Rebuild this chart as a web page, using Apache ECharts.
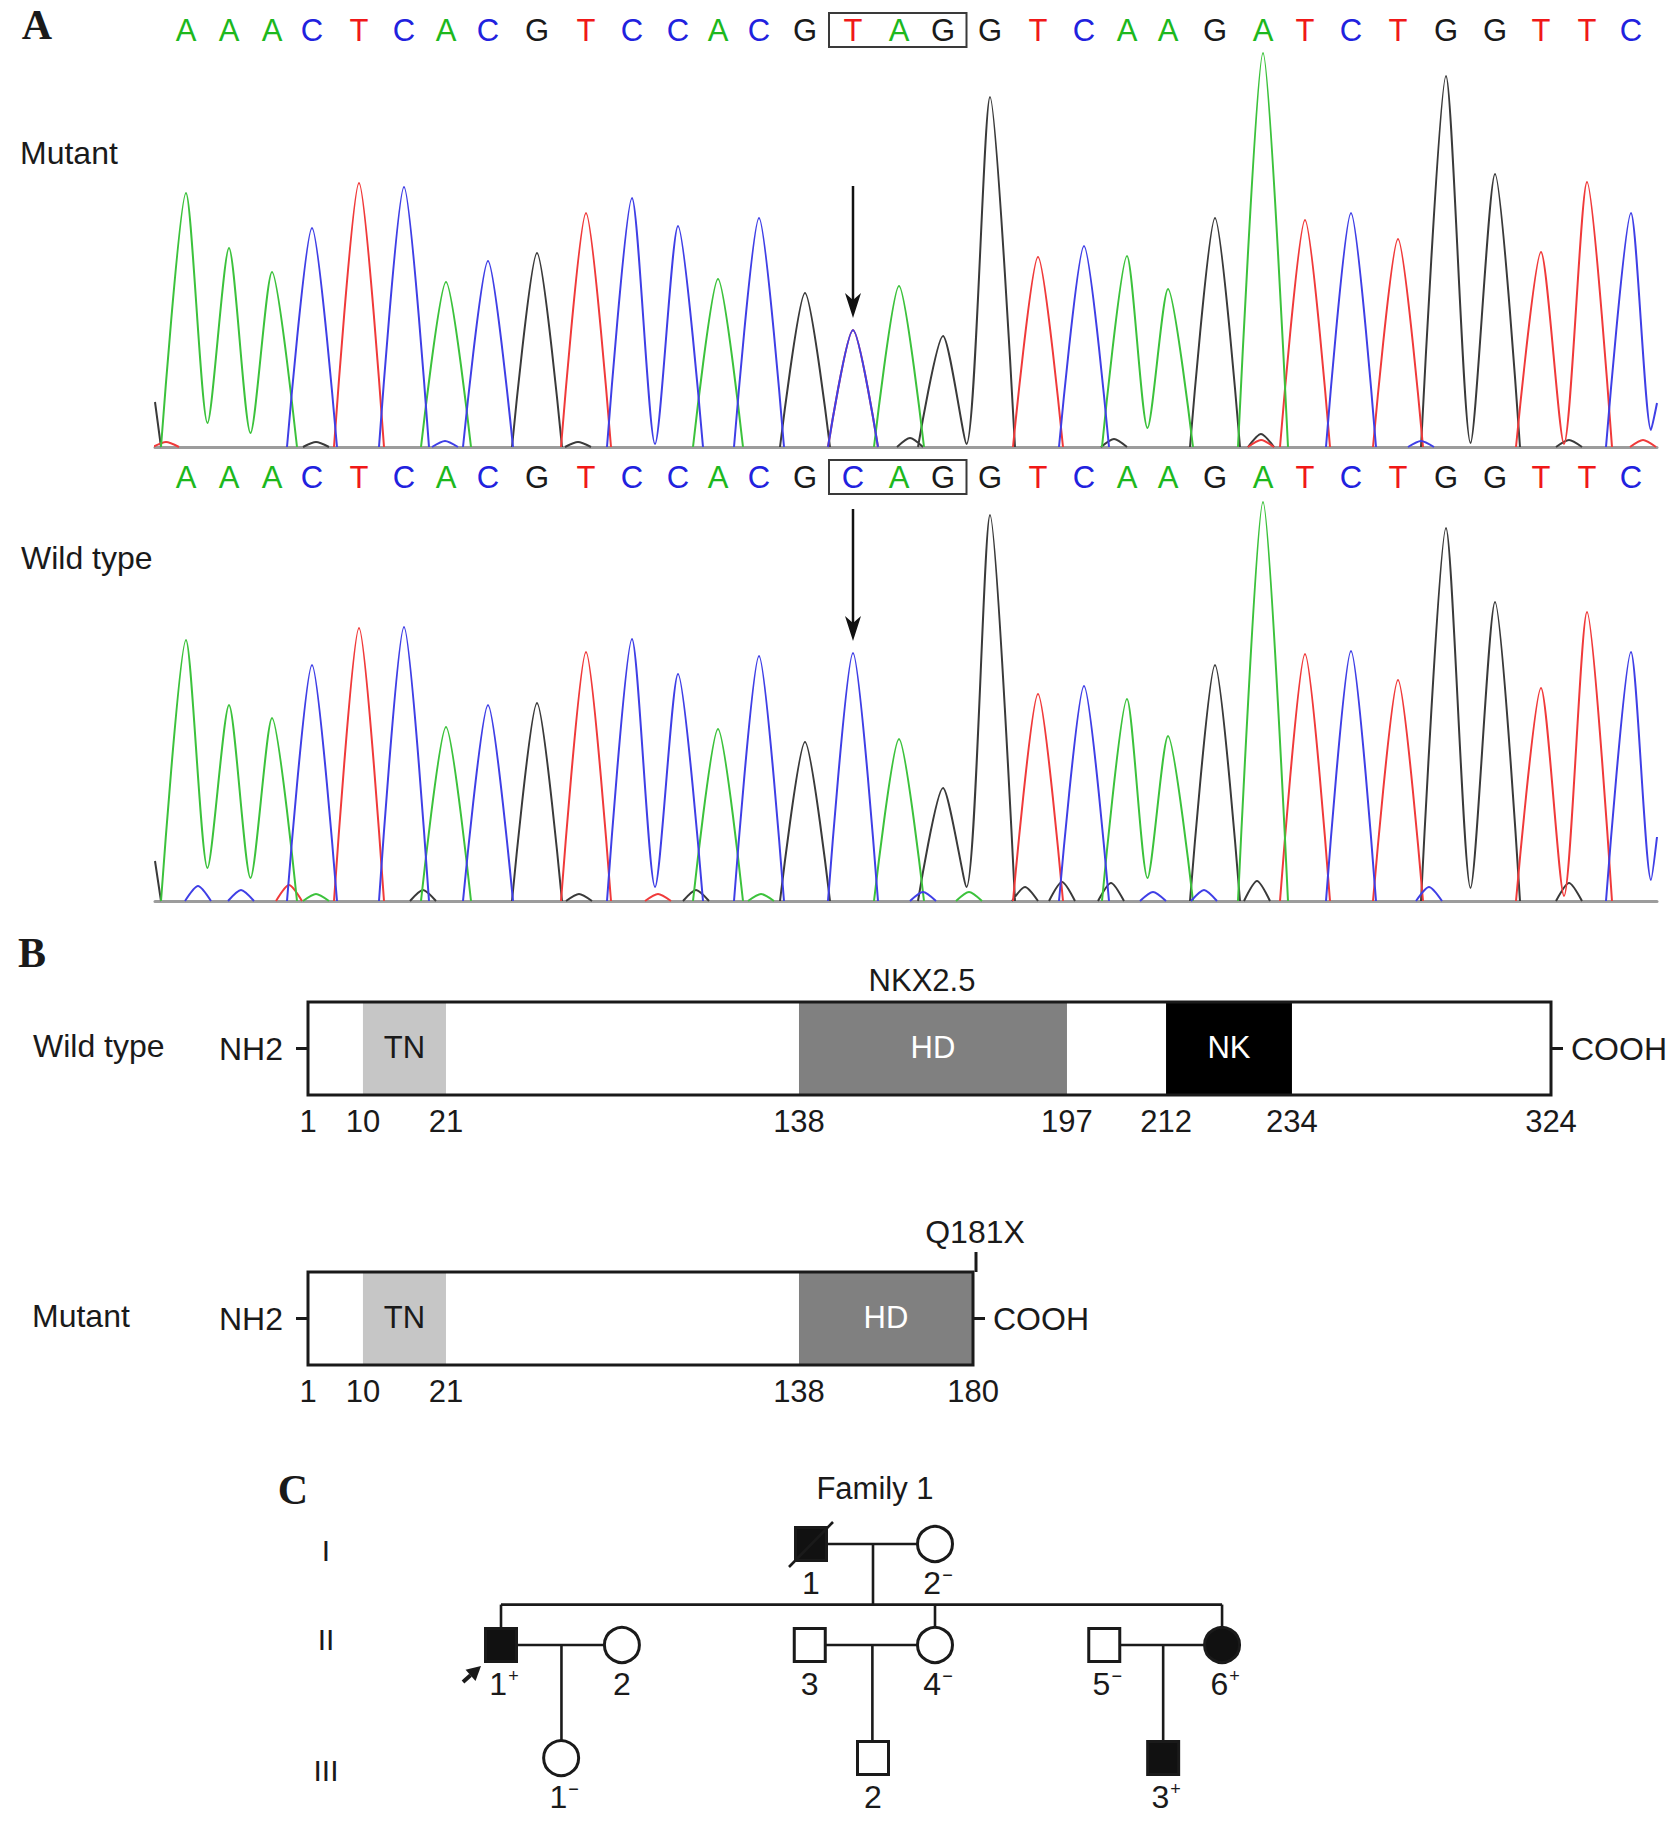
<!DOCTYPE html>
<html>
<head>
<meta charset="utf-8">
<title>NKX2.5 Q181X</title>
<script src="https://cdn.jsdelivr.net/npm/echarts@6.0.0/dist/echarts.min.js"></script>
<style>html,body{margin:0;padding:0;background:#fff;}#chart{width:1680px;height:1822px;}</style>
</head>
<body>
<div id="chart"></div>
<script>
// ================= DATA =================
// Panel A: Sanger chromatograms (heights)
const mutantCalls = 'AAACTCACGTCCACGTAGGTCAAGATCTGGTTC'.split('');
const wildCalls   = 'AAACTCACGTCCACGCAGGTCAAGATCTGGTTC'.split('');
const peakScan = [31,74,117,157,204,249,291,333,382,431,477,523,563,604,650,698,744,788,835,883,929,972,1013,1060,1108,1150,1196,1243,1291,1340,1386,1432,1476];
const mutantHeights = [254,199,175,219,264,260,165,186,194,234,249,221,168,229,154,117,161,111,350,190,201,191,158,229,394,227,234,208,371,273,195,265,234];
const wildHeights   = [261,196,183,236,273,274,174,196,198,249,262,227,172,245,159,248,162,113,386,207,215,202,165,236,399,247,250,221,373,299,213,289,249];
const mutantExtraPeaks = [['C',15,117]];          // heterozygous C under the T call
const wildExtraPeaks = [];
const mutantValleys = [[0,24],[1,14],[10,3],[17,3],[21,19],[28,4],[30,3]]; // valley after peak i
const wildValleys   = [[0,33],[1,23],[10,14],[17,14],[21,23],[28,13],[30,5]];
const mutantMinorPeaks = [['T',11,5],['G',161,5],['C',290,6],['G',423,5],['G',755,9],['G',959,8],['G',1106,13],['T',1106,7],['C',1266,6],['G',1414,7],['T',1488,7]];
const wildMinorPeaks = [['C',43,15],['C',86,11],['T',134,16],['A',161,7],['G',268,11],['G',424,7],['T',503,7],['G',541,11],['A',606,7],['C',768,9],['A',814,9],['G',870,14],['G',907,19],['G',956,18],['C',998,9],['C',1049,11],['G',1102,20],['C',1274,14],['G',1414,18]];
const mutantTraceStart = ['G',45];
const wildTraceStart   = ['G',40];
const mutantTraceEnd = ['C',1496,17,1502,44];
const wildTraceEnd   = ['C',1496,21,1502,64];
const codonFirst = 15, codonLast = 17, mutationIndex = 15;

// Panel B: NKX2.5 protein schematic
const residueTicksWT  = [1,10,21,138,197,212,234,324];
const residueTicksMut = [1,10,21,138,180];
// drawing position of each residue along the bar (the schematic is not to scale)
const residueDrawPos = {1:0, 10:4.42, 21:11.1, 138:39.5, 180:53.5, 197:61.06, 212:69.03, 234:79.16, 324:100};
const domainsWT  = [['TN',10,21],['HD',138,197],['NK',212,234]];
const domainsMut = [['TN',10,21],['HD',138,180]];
const lengthWT = 324, lengthMut = 180;
const mutationLabel = 'Q181X';

// Panel C: pedigree
// id, generation, column, sex, affected, deceased, proband, number, genotype
const pedigree = [
  ['I-1',1,5,'M',1,1,0,'1',''],
  ['I-2',1,7,'F',0,0,0,'2','−'],
  ['II-1',2,0,'M',1,0,1,'1','+'],
  ['II-2',2,1.95,'F',0,0,0,'2',''],
  ['II-3',2,4.98,'M',0,0,0,'3',''],
  ['II-4',2,7,'F',0,0,0,'4','−'],
  ['II-5',2,9.73,'M',0,0,0,'5','−'],
  ['II-6',2,11.63,'F',1,0,0,'6','+'],
  ['III-1',3,0.97,'F',0,0,0,'1','−'],
  ['III-2',3,6,'M',0,0,0,'2',''],
  ['III-3',3,10.68,'M',1,0,0,'3','+']
];
const generationRow = {1:1, 2:2, 3:3.12};
const families = [
  [['I-1','I-2'],['II-1','II-4','II-6']],
  [['II-1','II-2'],['III-1']],
  [['II-3','II-4'],['III-2']],
  [['II-5','II-6'],['III-3']]
];
const generationLabels = ['I','II','III'];

// ================= STYLE =================
const FONT = '"Liberation Sans", Arial, Helvetica, sans-serif';
const SERIF = '"Liberation Serif", "Times New Roman", serif';
const INK = '#1a1a1a';
const traceColor = {A:'#3cc23c', C:'#3f3fe6', G:'#3a3a3a', T:'#f03a3a'};
const letterColor = {A:'#1db81d', C:'#2121de', G:'#1a1a1a', T:'#f01818'};
const domainFill = {TN:'#c6c6c6', HD:'#808080', NK:'#000000'};
const domainInk = {TN:'#1a1a1a', HD:'#ffffff', NK:'#ffffff'};

function txt(x, y, text, size, opts) {
  opts = opts || {};
  const align = opts.align || 'center', va = opts.va || 'middle';
  return {type:'text', x:x, y:y, z:opts.z || 10,
    style:{text:text, fill:opts.fill || INK, fontSize:size, fontFamily:opts.family || FONT,
      fontWeight:opts.weight || 'normal', align:align, textAlign:align,
      verticalAlign:va, textVerticalAlign:va}};
}

// ---------- chromatogram traces ----------
const TRACE_END = 1502;
function traceData(base, calls, heights, valleys, extra, minor, start, end) {
  const W = 25, w = 13;
  const vm = new Map(valleys);
  const peaks = [];
  calls.forEach((b, i) => { if (b === base) peaks.push([i, heights[i]]); });
  extra.forEach(e => { if (e[0] === base) peaks.push([e[1], e[2]]); });
  peaks.sort((a, b) => a[0] - b[0]);
  const out = [];
  const gap = () => out.push(['-', '-']);
  if (start && start[0] === base) { out.push([0, start[1]], [6, 0]); gap(); }
  for (let k = 0; k < peaks.length; k++) {
    const i = peaks[k][0], h = peaks[k][1], x = peakScan[i];
    const prev = peaks[k - 1];
    const joinedPrev = prev && prev[0] === i - 1 && vm.has(i - 1);
    if (!joinedPrev) out.push([x - W, 0]);
    out.push([x, h]);
    const next = peaks[k + 1];
    if (next && next[0] === i + 1 && vm.has(i)) {
      out.push([(x + peakScan[i + 1]) / 2, vm.get(i)]);
    } else if (end && end[0] === base && i === calls.length - 1) {
      out.push([end[1], end[2]], [end[3], end[4]]); gap();
    } else {
      out.push([x + W, 0]); gap();
    }
  }
  minor.forEach(m => { if (m[0] === base) { out.push([m[1] - w, 0], [m[1], m[2]], [m[1] + w, 0]); gap(); } });
  return out;
}

function letterSeries(gi, calls, level) {
  return {type:'custom', xAxisIndex:gi, yAxisIndex:gi, z:5,
    data: calls.map((b, i) => [peakScan[i], level]),
    renderItem: (params, api) => {
      const p = api.coord([api.value(0), api.value(1)]);
      const b = calls[params.dataIndex];
      return txt(p[0], p[1], b, 31, {fill: letterColor[b]});
    }};
}

function markSeries(gi, heights, level) {
  return {type:'custom', xAxisIndex:gi, yAxisIndex:gi, z:6,
    data: [[peakScan[mutationIndex], heights[mutationIndex]]],
    renderItem: (params, api) => {
      const L = api.coord([(peakScan[codonFirst - 1] + peakScan[codonFirst]) / 2, level]);
      const R = api.coord([(peakScan[codonLast] + peakScan[codonLast + 1]) / 2, level]);
      const t = api.coord([api.value(0), api.value(1)]);
      const tip = t[1] - 12, x = t[0];
      return {type:'group', children:[
        {type:'rect', shape:{x:L[0], y:L[1] - 17, width:R[0] - L[0], height:34}, style:{fill:'none', stroke:'#3a3a3a', lineWidth:2}},
        {type:'line', shape:{x1:x, y1:tip - 132, x2:x, y2:tip - 14}, style:{stroke:'#111', lineWidth:2.5}},
        {type:'polygon', shape:{points:[[x, tip], [x - 8, tip - 25], [x, tip - 18], [x + 8, tip - 25]]}, style:{fill:'#111'}}
      ]};
    }};
}

function traceSeries(gi, calls, heights, valleys, extra, minor, start, end) {
  return ['G','T','A','C'].map(b => ({
    type:'line', xAxisIndex:gi, yAxisIndex:gi, name:b, z:3,
    data: traceData(b, calls, heights, valleys, extra, minor, start, end),
    showSymbol:false, symbol:'none', smooth:0.25, connectNulls:false,
    lineStyle:{color:traceColor[b], width:2}, emphasis:{disabled:true}, silent:true
  }));
}

// ---------- protein schematic ----------
function domainSeries(gi, domains) {
  return {type:'custom', xAxisIndex:gi, yAxisIndex:gi, z:4,
    data: domains.map(d => [residueDrawPos[d[1]], residueDrawPos[d[2]]]),
    renderItem: (params, api) => {
      const d = domains[params.dataIndex];
      const a = api.coord([api.value(0), 1]), b = api.coord([api.value(1), 0]);
      return {type:'group', children:[
        {type:'rect', shape:{x:a[0], y:a[1], width:b[0] - a[0], height:b[1] - a[1]}, style:{fill:domainFill[d[0]]}},
        txt((a[0] + b[0]) / 2, (a[1] + b[1]) / 2 - 1, d[0], 31, {fill:domainInk[d[0]]})
      ]};
    }};
}

function frameSeries(gi, len, mutLabel) {
  return {type:'custom', xAxisIndex:gi, yAxisIndex:gi, z:5,
    data: [[0, residueDrawPos[len]]],
    renderItem: (params, api) => {
      const a = api.coord([api.value(0), 1]), b = api.coord([api.value(1), 0]);
      const my = (a[1] + b[1]) / 2;
      const ch = [
        {type:'rect', shape:{x:a[0], y:a[1], width:b[0] - a[0], height:b[1] - a[1]}, style:{fill:'none', stroke:INK, lineWidth:3}},
        {type:'line', shape:{x1:a[0] - 12, y1:my, x2:a[0], y2:my}, style:{stroke:INK, lineWidth:3}},
        txt(a[0] - 25, my, 'NH2', 32, {align:'right'}),
        {type:'line', shape:{x1:b[0], y1:my, x2:b[0] + 12, y2:my}, style:{stroke:INK, lineWidth:3}},
        txt(b[0] + 20, my, 'COOH', 32, {align:'left'})
      ];
      if (mutLabel) {
        ch.push({type:'line', shape:{x1:b[0] + 3, y1:a[1] - 20, x2:b[0] + 3, y2:a[1]}, style:{stroke:INK, lineWidth:3}});
        ch.push(txt(b[0] + 2, a[1] - 40, mutLabel, 32));
      }
      return {type:'group', children:ch};
    }};
}

function tickAxis(gi, ticks) {
  const vals = ticks.map(t => residueDrawPos[t]);
  return {gridIndex:gi, type:'value', min:0, max:100,
    axisLine:{show:false}, axisTick:{show:false}, splitLine:{show:false},
    axisLabel:{show:true, customValues:vals, margin:11, fontSize:31, fontFamily:FONT, color:INK,
      showMinLabel:true, showMaxLabel:true, hideOverlap:false,
      formatter: v => { const i = vals.findIndex(x => Math.abs(x - v) < 1e-6); return i >= 0 ? String(ticks[i]) : ''; }}};
}

// ---------- pedigree ----------
const byId = {};
pedigree.forEach(p => { byId[p[0]] = p; });
const pedigreeSegments = [];
families.forEach(f => {
  const p1 = byId[f[0][0]], p2 = byId[f[0][1]];
  const r = generationRow[p1[1]];
  pedigreeSegments.push([p1[2], r, p2[2], r]);
  const mid = (p1[2] + p2[2]) / 2;
  const kids = f[1].map(id => byId[id]);
  if (kids.length === 1) {
    pedigreeSegments.push([mid, r, mid, generationRow[kids[0][1]]]);
  } else {
    const sib = r + 0.6;
    pedigreeSegments.push([mid, r, mid, sib]);
    const xs = kids.map(k => k[2]);
    pedigreeSegments.push([Math.min.apply(null, xs), sib, Math.max.apply(null, xs), sib]);
    kids.forEach(k => pedigreeSegments.push([k[2], sib, k[2], generationRow[k[1]]]));
  }
});

const pedigreeLineSeries = {type:'custom', xAxisIndex:4, yAxisIndex:4, z:4,
  data: pedigreeSegments,
  renderItem: (params, api) => {
    const a = api.coord([api.value(0), api.value(1)]), b = api.coord([api.value(2), api.value(3)]);
    return {type:'line', shape:{x1:a[0], y1:a[1], x2:b[0], y2:b[1]}, style:{stroke:INK, lineWidth:2.6}};
  }};

const pedigreeSymbolSeries = {type:'custom', xAxisIndex:4, yAxisIndex:4, z:5,
  data: pedigree.map(p => [p[2], generationRow[p[1]]]),
  renderItem: (params, api) => {
    const p = pedigree[params.dataIndex];
    const c = api.coord([api.value(0), api.value(1)]);
    const fill = p[4] ? '#111' : '#fff';
    const ch = [];
    if (p[3] === 'M') ch.push({type:'rect', shape:{x:c[0] - 15.5, y:c[1] - 16.5, width:31, height:33}, style:{fill:fill, stroke:INK, lineWidth:3}});
    else ch.push({type:'circle', shape:{cx:c[0], cy:c[1], r:17.5}, style:{fill:fill, stroke:INK, lineWidth:3}});
    if (p[5]) ch.push({type:'line', shape:{x1:c[0] - 22, y1:c[1] + 23, x2:c[0] + 22, y2:c[1] - 22}, style:{stroke:INK, lineWidth:2.6}});
    if (p[6]) {
      const tx = c[0] - 20, ty = c[1] + 21, sx = c[0] - 38, sy = c[1] + 37;
      const dx = tx - sx, dy = ty - sy, L = Math.hypot(dx, dy), ux = dx / L, uy = dy / L;
      const bx = tx - ux * 14, by = ty - uy * 14;
      ch.push({type:'line', shape:{x1:sx, y1:sy, x2:bx, y2:by}, style:{stroke:INK, lineWidth:4}});
      ch.push({type:'polygon', shape:{points:[[tx, ty], [bx - uy * 7.5, by + ux * 7.5], [bx + uy * 7.5, by - ux * 7.5]]}, style:{fill:INK}});
    }
    const label = '{n|' + p[7] + '}' + (p[8] ? '{s|' + p[8] + '}' : '');
    ch.push({type:'text', x:c[0] + (p[8] ? 3 : 0), y:c[1] + 39,
      style:{text:label, align:'center', textAlign:'center', verticalAlign:'middle', textVerticalAlign:'middle',
        rich:{n:{fontSize:32, fontFamily:FONT, fill:INK, lineHeight:34},
              s:{fontSize:18, fontFamily:FONT, fill:INK, verticalAlign:'top', lineHeight:34, padding:[0,0,14,1]}}}});
    return {type:'group', children:ch};
  }};

// ================= CHART =================
const chart = echarts.init(document.getElementById('chart'), null, {renderer:'svg', width:1680, height:1822});
const hidden = {show:false};
const chromaX = gi => ({gridIndex:gi, type:'value', min:0, max:TRACE_END,
  axisLine:{show:true, onZero:true, lineStyle:{color:'#9c9c9c', width:3}}, axisTick:hidden, axisLabel:hidden, splitLine:hidden});

const option = {
  animation:false,
  backgroundColor:'#ffffff',
  grid:[
    {left:155, top:2, width:1502, height:445, outerBoundsMode:'none'},
    {left:155, top:456, width:1502, height:445, outerBoundsMode:'none'},
    {left:308, top:1002, width:1243, height:93, outerBoundsMode:'none'},
    {left:308, top:1272, width:1243, height:93, outerBoundsMode:'none'},
    {left:5, top:1493.5, width:1674, height:303, outerBoundsMode:'none'}
  ],
  xAxis:[
    chromaX(0), chromaX(1),
    tickAxis(2, residueTicksWT), tickAxis(3, residueTicksMut),
    {gridIndex:4, type:'value', min:-8, max:19, show:false}
  ],
  yAxis:[
    {gridIndex:0, type:'value', min:0, max:445, show:false},
    {gridIndex:1, type:'value', min:0, max:445, show:false},
    {gridIndex:2, type:'value', min:0, max:1, show:false},
    {gridIndex:3, type:'value', min:0, max:1, show:false},
    {gridIndex:4, type:'value', min:0.5, max:3.5, inverse:true, show:false}
  ],
  graphic:{elements:[
    txt(37, 25, 'A', 42, {family:SERIF, weight:'bold'}),
    txt(20, 153, 'Mutant', 32, {align:'left'}),
    txt(21, 558, 'Wild type', 32, {align:'left'}),
    txt(32, 953, 'B', 42, {family:SERIF, weight:'bold'}),
    txt(922, 980, 'NKX2.5', 31),
    txt(33, 1046, 'Wild type', 32, {align:'left'}),
    txt(32, 1316, 'Mutant', 32, {align:'left'}),
    txt(293, 1490, 'C', 42, {family:SERIF, weight:'bold'}),
    txt(875, 1488, 'Family 1', 31),
    txt(326, 1550, generationLabels[0], 30),
    txt(326, 1639, generationLabels[1], 30),
    txt(326, 1770, generationLabels[2], 30)
  ]},
  series:[].concat(
    traceSeries(0, mutantCalls, mutantHeights, mutantValleys, mutantExtraPeaks, mutantMinorPeaks, mutantTraceStart, mutantTraceEnd),
    traceSeries(1, wildCalls, wildHeights, wildValleys, wildExtraPeaks, wildMinorPeaks, wildTraceStart, wildTraceEnd),
    [letterSeries(0, mutantCalls, 417), letterSeries(1, wildCalls, 424),
     markSeries(0, mutantHeights, 417), markSeries(1, wildHeights, 424),
     domainSeries(2, domainsWT), frameSeries(2, lengthWT, null),
     domainSeries(3, domainsMut), frameSeries(3, lengthMut, mutationLabel),
     pedigreeLineSeries, pedigreeSymbolSeries]
  )
};
chart.setOption(option);
</script>
</body>
</html>
